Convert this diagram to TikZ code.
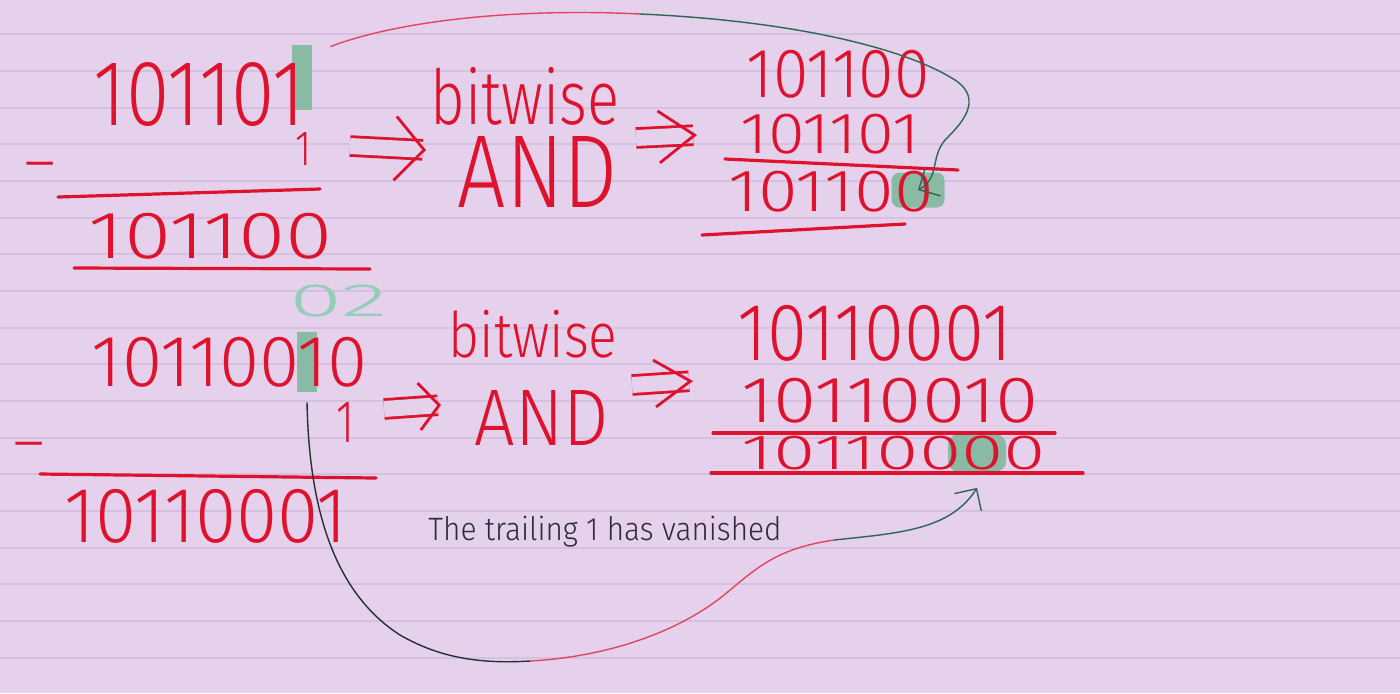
\documentclass[tikz,border=0pt]{standalone}
\usepackage{fontspec}
\usepackage{graphicx}
\newfontfamily\hand{Fira Sans Light}
\usetikzlibrary{arrows,arrows.meta}

\definecolor{paper}{RGB}{229,209,236}
\definecolor{ruling}{RGB}{214,192,223}
\definecolor{inkred}{RGB}{222,18,45}
\definecolor{marker}{RGB}{136,186,164}
\definecolor{softteal}{RGB}{150,205,185}
\definecolor{penred}{RGB}{226,70,92}
\definecolor{penteal}{RGB}{50,100,85}
\definecolor{pendark}{RGB}{35,50,48}
\definecolor{notegray}{RGB}{45,45,55}

% squeeze a handwritten string into a box of given width and height (pt)
\newcommand{\fitbox}[3]{\resizebox*{#1pt}{#2pt}{\hand #3}}

\tikzset{
	%Define standard arrow tip
	>={Straight Barb[length=8pt,width=16pt]},
	%Define style for handwritten digits and words
	ink/.style={inner sep=0pt, outer sep=0pt, text=inkred},
	%Define style for the paper rules
	ruled/.style={draw=ruling, line width=1pt},
	%Define style for the red bars under the sums
	bar/.style={draw=inkred, line width=1.6pt, line cap=round},
	%Define style for the teal markers
	hilite/.style={fill=marker, inner sep=0pt},
	% Define double arrow style
	thenarrow/.style 2 args={draw=inkred, line width=1.4pt, double=paper,
		double distance=8pt,
		-{Straight Barb[length=#1, width=#2, line width=1.4pt 0 0]}},
	% Define style for the thin pen curves
	pen/.style={line width=0.7pt}
}

\begin{document}
\begin{tikzpicture}[x=0.5pt, y=-0.5pt]
	
	\pgfdeclarelayer{bg}    % paper and markers go below
	\pgfsetlayers{bg,main}
	
	\useasboundingbox (0,0) rectangle (1400,693);
	
	\begin{pgfonlayer}{bg}
		\fill[paper] (0,0) rectangle (1400,693);
		\foreach \k in {0,...,17}
		\draw[ruled] (0,{34.3+36.67*\k}) -- (1400,{34.3+36.67*\k});
		
		\node[hilite, minimum width=10pt, minimum height=32.5pt] (hl1) at (302,77.5) {};
		\node[hilite, minimum width=10pt, minimum height=30pt] (hl2) at (307,362) {};
		\node[hilite, rounded corners=4pt, minimum width=26.5pt, minimum height=17.5pt] (bl1) at (918,190) {};
		\node[hilite, rounded corners=5pt, minimum width=29pt, minimum height=18.5pt] (bl2) at (977,453) {};
	\end{pgfonlayer}
	
	% first sum: 101101 - 1
	\node[ink] (sub1a) at (199.5,95) {\fitbox{105.5}{32}{101101}};
	\node[ink] (sub1b) at (303,149) {\fitbox{8}{16.5}{1}};
	\node[ink] (minus1) at (40,172) {\hand\fontsize{30pt}{30pt}\selectfont –};
	\draw[bar] (58,197) -- (320,189);
	\node[ink] (res1) at (211,236) {\fitbox{122}{23}{101100}};
	\draw[bar] (74,268) -- (370,269);
	
	\node[ink] (bit1) at (525,96) {\fitbox{94.5}{29}{bitwise}};
	\node[ink] (and1) at (538,172) {\fitbox{80}{35.5}{AND}};
	
	\coordinate (a1s) at (350,146);
	\coordinate (a1e) at (426,150);
	\coordinate (a2s) at (636,138);
	\coordinate (a2e) at (697,135);
	\draw[thenarrow={14.5pt}{32pt}] (a1s) -- (a1e);
	\draw[thenarrow={18pt}{26pt}] (a2s) -- (a2e);
	
	\node[ink] (r1a) at (838,74) {\fitbox{91.5}{24}{101100}};
	\node[ink] (r1b) at (830,134) {\fitbox{89.5}{20}{101101}};
	\draw[bar] (725,159) -- (958,170);
	\node[ink] (r1c) at (831,192) {\fitbox{102.5}{20.5}{101100}};
	\draw[bar] (702,235) -- (905,224);
	
	% second sum: 10110010 - 1
	\node[ink, text=softteal] (note02) at (339,301) {\fitbox{49}{16}{02}};
	\node[ink] (sub2a) at (230,362) {\fitbox{138}{25}{10110010}};
	\node[ink] (sub2b) at (345,422) {\fitbox{9}{20}{1}};
	\node[ink] (minus2) at (29,452) {\hand\fontsize{30pt}{30pt}\selectfont –};
	\draw[bar] (40,474) -- (376,478);
	\node[ink] (res2) at (206,516) {\fitbox{141.5}{27}{10110001}};
	
	\node[ink] (bit2) at (533,334) {\fitbox{84.5}{24}{bitwise}};
	\node[ink] (and2) at (542,418) {\fitbox{67}{27.5}{AND}};
	
	\coordinate (a3s) at (384,409);
	\coordinate (a3e) at (441,405);
	\coordinate (a4s) at (632,385);
	\coordinate (a4e) at (693,381);
	\draw[thenarrow={10pt}{23.5pt}] (a3s) -- (a3e);
	\draw[thenarrow={18pt}{23.5pt}] (a4s) -- (a4e);
	
	\node[ink] (r2a) at (875,333) {\fitbox{137}{28}{10110001}};
	\node[ink] (r2b) at (890,401) {\fitbox{148.5}{22.5}{10110010}};
	\draw[bar] (713,433) -- (1055,433);
	\node[ink] (r2c) at (894,453) {\fitbox{152}{17}{10110000}};
	\draw[bar] (711,473) -- (1083,473);
	
	\node[inner sep=0pt, text=notegray] (note) at (605,532) {\fitbox{176.5}{15.5}{The trailing 1 has vanished}};
	
	% pen curves from the vanished 1 to the new 0
	\coordinate (m1) at (640,14);
	\draw[pen, draw=penred] ([xshift=9pt,yshift=-1pt]hl1.north east) .. controls (400,20) and (520,8) .. (m1);
	\draw[pen, draw=penteal, ->] (m1) .. controls (780,20) and (900,45) .. (955,80)
		.. controls (985,100) and (960,125) .. (945,140)
		.. controls (930,158) and (940,178) .. (bl1.center);
	
	\coordinate (m2) at (530,661);
	\coordinate (m3) at (834,540);
	\draw[pen, draw=pendark] ([yshift=-5pt]hl2.south) .. controls (309,500) and (330,590) .. (400,635)
		.. controls (440,658) and (480,664) .. (m2);
	\draw[pen, draw=penred] (m2) .. controls (620,656) and (690,625) .. (730,590)
		.. controls (760,565) and (780,548) .. (m3);
	\draw[pen, draw=penteal, ->] (m3) .. controls (900,533) and (950,530) .. ([yshift=-8pt]bl2.south);
	
\end{tikzpicture}
\end{document}
